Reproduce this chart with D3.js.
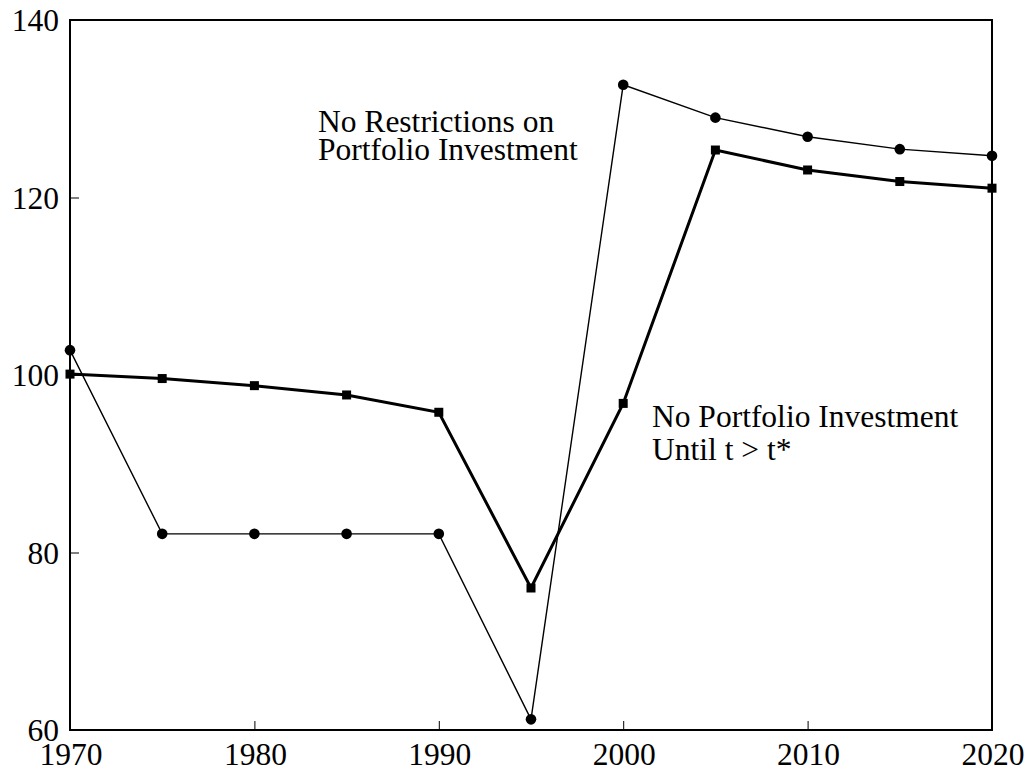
<!DOCTYPE html>
<html>
<head>
<meta charset="utf-8">
<script src="https://cdn.jsdelivr.net/npm/d3@7"></script>
<style>
  body { margin: 0; background: #fff; }
  svg text { font-family: "Liberation Serif", "Times New Roman", serif; font-size: 31.5px; fill: #000; }
</style>
</head>
<body>
<svg width="1031" height="774"></svg>
<script>
var years = [1970, 1975, 1980, 1985, 1990, 1995, 2000, 2005, 2010, 2015, 2020];
// circles: no restrictions on portfolio investment
var noRestrictions = [102.8, 82.1, 82.1, 82.1, 82.1, 61.2, 132.7, 129.0, 126.85, 125.45, 124.7];
// squares: no portfolio investment until t > t*
var noPortfolio = [100.1, 99.6, 98.8, 97.75, 95.8, 76.0, 96.8, 125.35, 123.1, 121.8, 121.05];
var xTicks = [1970, 1980, 1990, 2000, 2010, 2020];
var yTicks = [60, 80, 100, 120, 140];

var svg = d3.select("svg"),
    plotL = 70, plotR = 992, plotT = 20, plotB = 730;

var x = d3.scaleLinear().domain([1970, 2020]).range([plotL, plotR]);
var y = d3.scaleLinear().domain([60, 140]).range([plotB, plotT]);

// inward ticks, left and bottom only
svg.append("g")
  .attr("transform", "translate(" + plotL + ",0)")
  .call(d3.axisRight(y).tickValues(yTicks).tickSize(9).tickFormat(""))
  .call(function (g) { g.select(".domain").remove(); })
  .selectAll("line").attr("stroke", "#000").attr("stroke-width", 1);

svg.append("g")
  .attr("transform", "translate(0," + plotB + ")")
  .call(d3.axisTop(x).tickValues(xTicks).tickSize(9).tickFormat(""))
  .call(function (g) { g.select(".domain").remove(); })
  .selectAll("line").attr("stroke", "#000").attr("stroke-width", 1);

// tick labels
svg.selectAll(".ylab")
  .data(yTicks)
  .enter().append("text")
    .attr("class", "ylab")
    .attr("x", plotL - 11)
    .attr("y", function (d) { return y(d) + 11; })
    .attr("text-anchor", "end")
    .text(function (d) { return d; });

svg.selectAll(".xlab")
  .data(xTicks)
  .enter().append("text")
    .attr("class", "xlab")
    .attr("x", function (d) { return x(d) + 1; })
    .attr("y", plotB + 35)
    .attr("text-anchor", "middle")
    .text(function (d) { return d; });

// frame
svg.append("rect")
  .attr("x", plotL).attr("y", plotT)
  .attr("width", plotR - plotL).attr("height", plotB - plotT)
  .attr("fill", "none").attr("stroke", "#000").attr("stroke-width", 2);

var line = d3.line()
  .x(function (d) { return x(d[0]); })
  .y(function (d) { return y(d[1]); });

var circData = d3.zip(years, noRestrictions),
    sqData   = d3.zip(years, noPortfolio);

svg.append("path")
  .datum(circData)
  .attr("d", line)
  .attr("fill", "none").attr("stroke", "#000").attr("stroke-width", 1.4);

svg.append("path")
  .datum(sqData)
  .attr("d", line)
  .attr("fill", "none").attr("stroke", "#000").attr("stroke-width", 3)
  .attr("stroke-linejoin", "miter");

svg.selectAll(".dot")
  .data(circData)
  .enter().append("circle")
    .attr("class", "dot")
    .attr("cx", function (d) { return x(d[0]); })
    .attr("cy", function (d) { return y(d[1]); })
    .attr("r", 5.3);

svg.selectAll(".sq")
  .data(sqData)
  .enter().append("rect")
    .attr("class", "sq")
    .attr("x", function (d) { return x(d[0]) - 4.5; })
    .attr("y", function (d) { return y(d[1]) - 4.5; })
    .attr("width", 9).attr("height", 9);

// annotations
var labels = [
  { text: "No Restrictions on", x: 318, y: 132 },
  { text: "Portfolio Investment", x: 318, y: 160 },
  { text: "No Portfolio Investment", x: 652, y: 427 },
  { text: "Until t > t*", x: 652, y: 460 }
];
svg.selectAll(".note")
  .data(labels)
  .enter().append("text")
    .attr("class", "note")
    .attr("x", function (d) { return d.x; })
    .attr("y", function (d) { return d.y; })
    .text(function (d) { return d.text; });
</script>
</body>
</html>
